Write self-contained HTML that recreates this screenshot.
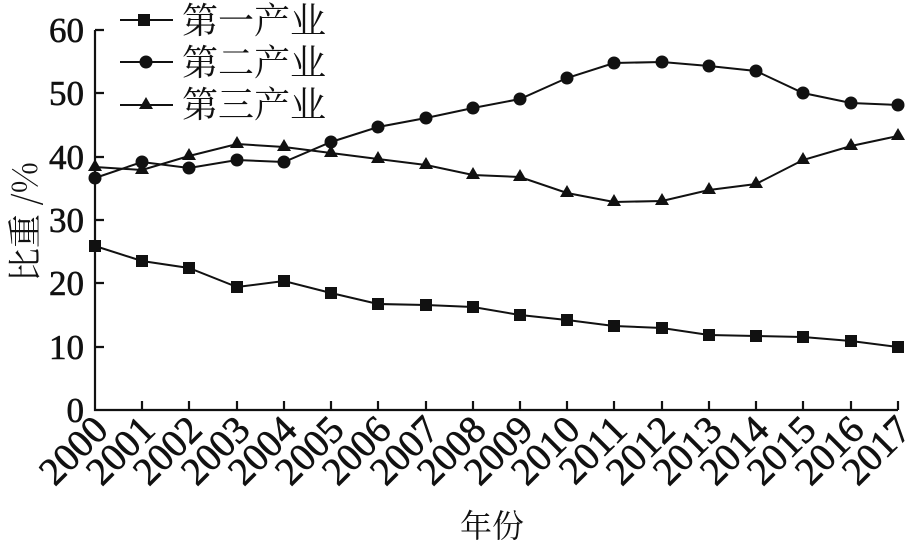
<!DOCTYPE html>
<html><head><meta charset="utf-8"><style>body{margin:0;background:#fff}svg{display:block}</style></head><body>
<svg width="913" height="550" xmlns="http://www.w3.org/2000/svg" font-family="'Liberation Serif','Noto Serif CJK SC',serif">
<g stroke="#111" stroke-width="2.2" fill="none">
<path d="M95,30 V410 H898"/>
<path d="M95,347h9M95,283h9M95,220h9M95,157h9M95,93h9M95,30h9"/>
<path d="M142,410v-9M189,410v-9M237,410v-9M284,410v-9M331,410v-9M378,410v-9M426,410v-9M473,410v-9M520,410v-9M567,410v-9M614,410v-9M662,410v-9M709,410v-9M756,410v-9M803,410v-9M851,410v-9M898,410v-9"/>
</g>
<g font-size="35" text-anchor="end" fill="#111" stroke="#111" stroke-width="0.6">
<text x="84" y="422">0</text><text x="84" y="359">10</text><text x="84" y="295">20</text><text x="84" y="232">30</text><text x="84" y="169">40</text><text x="84" y="105">50</text><text x="84" y="42">60</text>
</g>
<g font-size="39" text-anchor="end" fill="#111" stroke="#111" stroke-width="0.6">
<text transform="translate(110,432) rotate(-45)">2000</text>
<text transform="translate(157,432) rotate(-45)">2001</text>
<text transform="translate(204,432) rotate(-45)">2002</text>
<text transform="translate(252,432) rotate(-45)">2003</text>
<text transform="translate(299,432) rotate(-45)">2004</text>
<text transform="translate(346,432) rotate(-45)">2005</text>
<text transform="translate(393,432) rotate(-45)">2006</text>
<text transform="translate(441,432) rotate(-45)">2007</text>
<text transform="translate(488,432) rotate(-45)">2008</text>
<text transform="translate(535,432) rotate(-45)">2009</text>
<text transform="translate(582,432) rotate(-45)">2010</text>
<text transform="translate(629,432) rotate(-45)">2011</text>
<text transform="translate(677,432) rotate(-45)">2012</text>
<text transform="translate(724,432) rotate(-45)">2013</text>
<text transform="translate(771,432) rotate(-45)">2014</text>
<text transform="translate(818,432) rotate(-45)">2015</text>
<text transform="translate(866,432) rotate(-45)">2016</text>
<text transform="translate(913,432) rotate(-45)">2017</text>
</g>
<text x="492" y="537" font-size="32" text-anchor="middle" fill="#111" font-family="'Noto Serif CJK SC',serif">年份</text>
<text transform="translate(37,222) rotate(-90)" font-size="34" text-anchor="middle" fill="#111" font-family="'Noto Serif CJK SC',serif">比重 /%</text>
<g stroke="#111" stroke-width="2" fill="none">
<polyline points="95,246 142,261 189,268 237,287 284,281 331,293 378,304 426,305 473,307 520,315 567,320 614,326 662,328 709,335 756,336 803,337 851,341 898,347"/>
<polyline points="95,178 142,162 189,168 237,160 284,162 331,142 378,127 426,118 473,108 520,99 567,78 614,63 662,62 709,66 756,71 803,93 851,103 898,105"/>
<polyline points="95,167 142,170 189,156 237,144 284,147 331,153 378,159 426,165 473,175 520,177 567,193 614,202 662,201 709,190 756,184 803,160 851,146 898,136"/>
<path d="M120,20h53M120,62h53M120,105h53"/>
</g>
<g fill="#111">
<rect x="89" y="240" width="12" height="12"/><rect x="136" y="255" width="12" height="12"/><rect x="183" y="262" width="12" height="12"/><rect x="231" y="281" width="12" height="12"/><rect x="278" y="275" width="12" height="12"/><rect x="325" y="287" width="12" height="12"/><rect x="372" y="298" width="12" height="12"/><rect x="420" y="299" width="12" height="12"/><rect x="467" y="301" width="12" height="12"/><rect x="514" y="309" width="12" height="12"/><rect x="561" y="314" width="12" height="12"/><rect x="608" y="320" width="12" height="12"/><rect x="656" y="322" width="12" height="12"/><rect x="703" y="329" width="12" height="12"/><rect x="750" y="330" width="12" height="12"/><rect x="797" y="331" width="12" height="12"/><rect x="845" y="335" width="12" height="12"/><rect x="892" y="341" width="12" height="12"/><rect x="138" y="14" width="12" height="12"/>
<circle cx="95" cy="178" r="6.5"/><circle cx="142" cy="162" r="6.5"/><circle cx="189" cy="168" r="6.5"/><circle cx="237" cy="160" r="6.5"/><circle cx="284" cy="162" r="6.5"/><circle cx="331" cy="142" r="6.5"/><circle cx="378" cy="127" r="6.5"/><circle cx="426" cy="118" r="6.5"/><circle cx="473" cy="108" r="6.5"/><circle cx="520" cy="99" r="6.5"/><circle cx="567" cy="78" r="6.5"/><circle cx="614" cy="63" r="6.5"/><circle cx="662" cy="62" r="6.5"/><circle cx="709" cy="66" r="6.5"/><circle cx="756" cy="71" r="6.5"/><circle cx="803" cy="93" r="6.5"/><circle cx="851" cy="103" r="6.5"/><circle cx="898" cy="105" r="6.5"/><circle cx="146" cy="62" r="6.5"/>
<path d="M95,159l7,12h-14zM142,162l7,12h-14zM189,148l7,12h-14zM237,136l7,12h-14zM284,139l7,12h-14zM331,145l7,12h-14zM378,151l7,12h-14zM426,157l7,12h-14zM473,167l7,12h-14zM520,169l7,12h-14zM567,185l7,12h-14zM614,194l7,12h-14zM662,193l7,12h-14zM709,182l7,12h-14zM756,176l7,12h-14zM803,152l7,12h-14zM851,138l7,12h-14zM898,128l7,12h-14zM146,97l7,12h-14z"/>
</g>
<g font-size="36" fill="#111" font-family="'Noto Serif CJK SC',serif">
<text x="182" y="33">第一产业</text><text x="182" y="75">第二产业</text><text x="182" y="117">第三产业</text>
</g>
</svg>
</body></html>
